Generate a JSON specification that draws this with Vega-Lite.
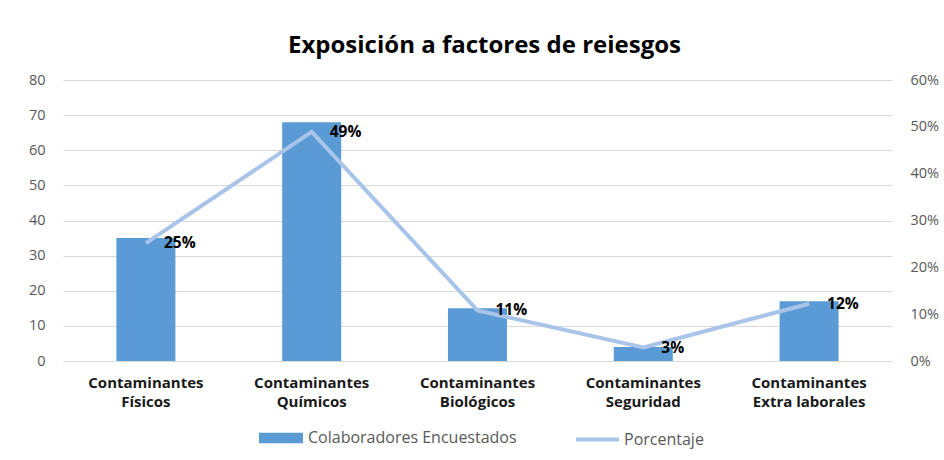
{
  "$schema": "https://vega.github.io/schema/vega-lite/v6.json",
  "width": 829,
  "height": 281,
  "autosize": {"type": "none"},
  "padding": {"left": 63, "top": 80, "right": 52, "bottom": 99},
  "background": "#ffffff",
  "title": {
    "text": "Exposición a factores de reiesgos",
    "font": "Open Sans",
    "fontSize": 24,
    "fontWeight": "bold",
    "color": "#000000",
    "anchor": "middle",
    "frame": "group",
    "baseline": "alphabetic",
    "offset": -5,
    "dx": 7
  },
  "config": {
    "font": "Open Sans",
    "view": {"stroke": null}
  },
  "data": {
    "values": [
      {"cat": "Contaminantes Físicos", "n": 35, "pct": 0.2518},
      {"cat": "Contaminantes Químicos", "n": 68, "pct": 0.4892},
      {"cat": "Contaminantes Biológicos", "n": 15, "pct": 0.1079},
      {"cat": "Contaminantes Seguridad", "n": 4, "pct": 0.0288},
      {"cat": "Contaminantes Extra laborales", "n": 17, "pct": 0.1223}
    ]
  },
  "layer": [
    {
      "mark": {"type": "bar"},
      "encoding": {
        "x": {
          "field": "cat",
          "type": "nominal",
          "sort": null,
          "scale": {"paddingInner": 0.644, "paddingOuter": 0.322},
          "axis": {
            "title": null,
            "labelAngle": 0,
            "labelExpr": "[slice(datum.label, 0, 13), slice(datum.label, 14)]",
            "labelFont": "Open Sans",
            "labelFontSize": 15,
            "labelFontWeight": "bold",
            "labelColor": "#1a1a1a",
            "labelLineHeight": 19,
            "labelPadding": 14,
            "labelLimit": 300,
            "ticks": false,
            "domainColor": "#D9D9D9",
            "domainWidth": 1
          }
        },
        "y": {
          "field": "n",
          "type": "quantitative",
          "scale": {"domain": [0, 80]},
          "axis": {
            "title": null,
            "values": [0, 10, 20, 30, 40, 50, 60, 70, 80],
            "domain": false,
            "ticks": false,
            "gridColor": "#D9D9D9",
            "labelColor": "#595959",
            "labelFontSize": 14.5,
            "labelPadding": 18
          }
        },
        "fill": {
          "datum": "Colaboradores Encuestados",
          "scale": {"range": ["#5B9BD5"]},
          "legend": {
            "title": null,
            "orient": "none",
            "legendX": 196,
            "legendY": 336,
            "symbolType": "M-1,-0.24H1V0.24H-1Z",
            "symbolSize": 1936,
            "symbolStrokeWidth": 0,
            "labelFontSize": 16,
            "labelLimit": 400,
            "labelColor": "#595959",
            "labelOffset": 5
          }
        }
      }
    },
    {
      "layer": [
        {
          "mark": {"type": "line", "strokeWidth": 4},
          "encoding": {
            "x": {"field": "cat", "type": "nominal", "sort": null},
            "y": {
              "field": "pct",
              "type": "quantitative",
              "scale": {"domain": [0, 0.6]},
              "axis": {
                "title": null,
                "orient": "right",
                "format": ".0%",
                "values": [0, 0.1, 0.2, 0.3, 0.4, 0.5, 0.6],
                "grid": false,
                "domain": false,
                "ticks": false,
                "labelColor": "#595959",
                "labelFontSize": 14.5,
                "labelPadding": 18
              }
            },
            "stroke": {
              "datum": "Porcentaje",
              "scale": {"range": ["#A9C4E9"]},
              "legend": {
                "title": null,
                "orient": "none",
                "legendX": 511,
                "legendY": 336,
                "symbolType": "stroke",
                "symbolSize": 1849,
                "symbolStrokeWidth": 4,
                "labelFontSize": 16,
                "labelLimit": 400,
                "labelColor": "#595959",
                "labelOffset": 3
              }
            }
          }
        },
        {
          "mark": {
            "type": "text",
            "align": "left",
            "baseline": "middle",
            "dx": 18,
            "fontSize": 15.5,
            "fontWeight": "bold",
            "color": "#000000"
          },
          "encoding": {
            "x": {"field": "cat", "type": "nominal", "sort": null},
            "y": {"field": "pct", "type": "quantitative"},
            "text": {"field": "pct", "type": "quantitative", "format": ".0%"}
          }
        }
      ]
    }
  ],
  "resolve": {"scale": {"y": "independent"}}
}
